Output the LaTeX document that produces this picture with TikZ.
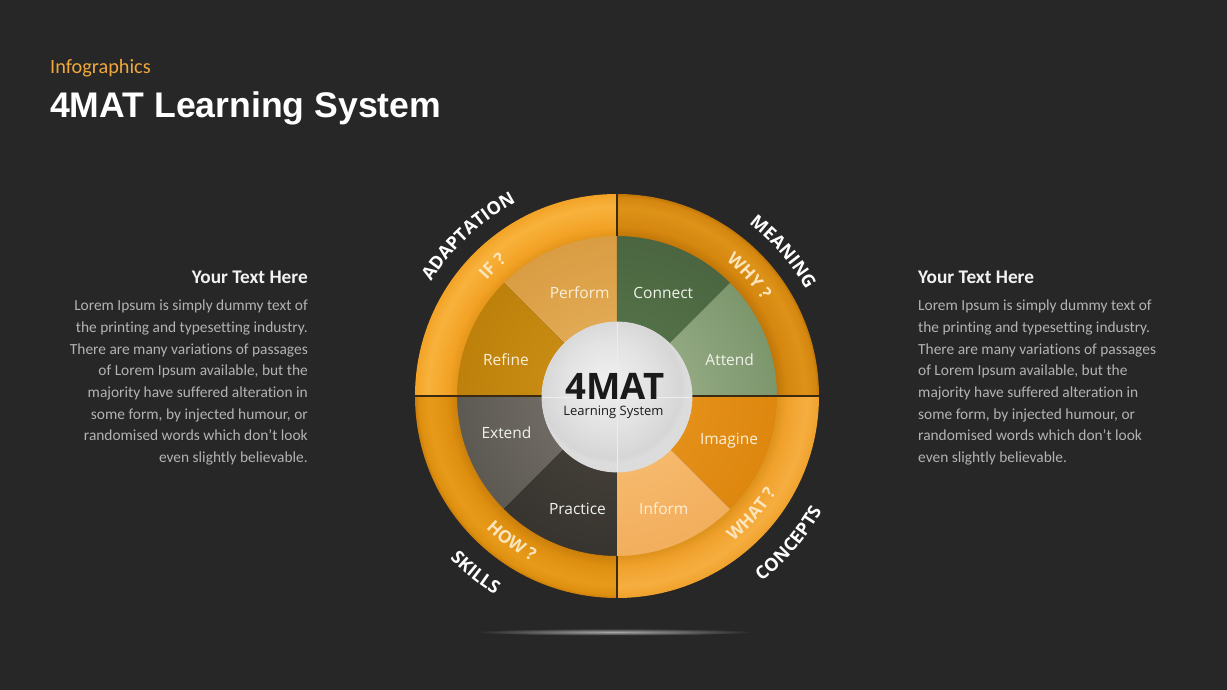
\documentclass[tikz,border=0pt]{standalone}
\usepackage{fontspec}
\setmainfont{Carlito}[Ligatures=NoCommon]
\newfontfamily\osans{Open Sans}
\newfontfamily\lsans{Liberation Sans}
\usetikzlibrary{decorations.text}

\definecolor{bg}{HTML}{272727}
\definecolor{infoc}{HTML}{F0A83C}
\definecolor{headc}{HTML}{F2F2F2}
\definecolor{bodyc}{HTML}{B3B3B3}
\definecolor{divc}{HTML}{3B2A12}
\definecolor{ringtxt}{HTML}{FCE5BC}
\definecolor{creamtxt}{HTML}{FBEFD9}
\definecolor{lighttxt}{HTML}{F0F2EC}
\definecolor{darktxt}{HTML}{1A1A1A}
\definecolor{glowc}{HTML}{A8A8A8}
% ring colours
\definecolor{tlE}{HTML}{E39418}\definecolor{tlM}{HTML}{F3A326}\definecolor{tlL}{HTML}{F8B23C}
\definecolor{trE}{HTML}{BF7508}\definecolor{trM}{HTML}{D5870F}\definecolor{trL}{HTML}{DD9218}
\definecolor{brE}{HTML}{DD921C}\definecolor{brM}{HTML}{F0A12C}\definecolor{brL}{HTML}{F6AE40}
\definecolor{blE}{HTML}{C97E0A}\definecolor{blM}{HTML}{DE8F10}\definecolor{blL}{HTML}{E79A1A}
% sector colours
\definecolor{perI}{HTML}{E8B562}\definecolor{perO}{HTML}{D99C42}
\definecolor{refI}{HTML}{D0931A}\definecolor{refO}{HTML}{BD800A}
\definecolor{conI}{HTML}{5A7A4E}\definecolor{conO}{HTML}{4A6540}
\definecolor{attI}{HTML}{A2B690}\definecolor{attO}{HTML}{7C966C}
\definecolor{imaI}{HTML}{EA9620}\definecolor{imaO}{HTML}{DD870F}
\definecolor{infI}{HTML}{F9C27A}\definecolor{infO}{HTML}{F2AE5C}
\definecolor{extI}{HTML}{7E7A72}\definecolor{extO}{HTML}{5C5852}
\definecolor{praI}{HTML}{4A453E}\definecolor{praO}{HTML}{37332E}
% centre
\definecolor{cA}{HTML}{EFEFEF}\definecolor{cB}{HTML}{E3E3E3}
\definecolor{cC}{HTML}{D6D6D6}\definecolor{cD}{HTML}{DCDCDC}
\definecolor{clinec}{HTML}{EDEDED}

\pgfdeclareradialshading{ringTL}{\pgfpointorigin}{color(0bp)=(tlE); color(19.7bp)=(tlE); color(21bp)=(tlM); color(23.5bp)=(tlL); color(25bp)=(tlM); color(50bp)=(tlM)}
\pgfdeclareradialshading{ringTR}{\pgfpointorigin}{color(0bp)=(trE); color(19.7bp)=(trE); color(21bp)=(trM); color(23.3bp)=(trL); color(24.6bp)=(trM); color(25bp)=(trE); color(50bp)=(trE)}
\pgfdeclareradialshading{ringBR}{\pgfpointorigin}{color(0bp)=(brE); color(19.7bp)=(brE); color(21bp)=(brM); color(23.5bp)=(brL); color(25bp)=(brM); color(50bp)=(brM)}
\pgfdeclareradialshading{ringBL}{\pgfpointorigin}{color(0bp)=(blE); color(19.7bp)=(blE); color(21bp)=(blM); color(23.3bp)=(blL); color(24.6bp)=(blM); color(25bp)=(blE); color(50bp)=(blE)}
\pgfdeclareradialshading{cball}{\pgfpoint{-4bp}{6bp}}{color(0bp)=(cA); color(14bp)=(cB); color(23.5bp)=(cC); color(25bp)=(cD); color(50bp)=(cD)}

\newcommand\ringseg[3]{\begin{scope}\clip ({#1}:160) arc[start angle=#1,end angle=#2,radius=160] -- ({#2}:202) arc[start angle=#2,end angle=#1,radius=202] -- cycle;
  \shade[shading=#3] (0,0) circle (202);\end{scope}}
\newcommand\pieseg[4]{\begin{scope}\clip (0,0) -- ({#1}:163) arc[start angle=#1,end angle=#2,radius=163] -- cycle;
  \shade[inner color=#3, outer color=#4] (0,0) circle (163);\end{scope}}
\newcommand\outfmt{\osans\bfseries\fontsize{18}{20}\selectfont\color{white}}
\newcommand\midfmt{\osans\bfseries\fontsize{17.5}{20}\selectfont\color{ringtxt}}
\newcommand\toplabel[4]{\path[decorate,decoration={text along path,text align=center,text={|#4|#3}}] ({#1+40}:#2) arc[start angle={#1+40},end angle={#1-40},radius=#2];}
\newcommand\botlabel[4]{\path[decorate,decoration={text along path,text align=center,text={|#4|#3}}] ({#1-40}:#2) arc[start angle={#1-40},end angle={#1+40},radius=#2];}

\tikzset{
  seclbl/.style={font=\osans\fontsize{15.5}{18}\selectfont, inner sep=0pt, anchor=base},
  divline/.style={draw=divc, line width=1.1pt},
  cline/.style={draw=clinec, line width=0.8pt},
  bodytxt/.style={font=\fontsize{15.4}{18}\selectfont, text=bodyc, inner sep=0pt},
  headtxt/.style={font=\bfseries\fontsize{19.3}{22}\selectfont, text=headc, inner sep=0pt}
}

\begin{document}
\begin{tikzpicture}[x=1pt,y=1pt]
\useasboundingbox (-617,-294) rectangle (610,396);
\fill[bg] (-617,-294) rectangle (610,396);

% title
\node[anchor=base west, inner sep=0pt, font=\fontsize{20.3}{22}\selectfont, text=infoc] (info) at (-567,322) {Infographics};
\node[anchor=base west, inner sep=0pt, font=\lsans\bfseries\fontsize{35.6}{40}\selectfont, text=white] (title) at (-567,278) {4MAT Learning System};

% side texts
\node[headtxt, anchor=base east] (lhead) at (-309,112) {Your Text Here};
\node[headtxt, anchor=base west] (rhead) at (301,112) {Your Text Here};
\foreach \t [count=\i] in {Lorem Ipsum is simply dummy text of, the printing and typesetting industry., There are many variations of passages, {of Lorem Ipsum available, but the}, majority have suffered alteration in, {some form, by injected humour, or}, randomised words which don't look, even slightly believable.}{
  \node[bodytxt, anchor=base east] (L\i) at (-309,{85.3-(\i-1)*21.7}) {\t};
  \node[bodytxt, anchor=base west] (R\i) at (301,{85.3-(\i-1)*21.7}) {\t};
}

% inner sectors
\pieseg{90}{135}{perI}{perO}
\pieseg{135}{180}{refI}{refO}
\pieseg{45}{90}{conI}{conO}
\pieseg{0}{45}{attI}{attO}
\pieseg{-45}{0}{imaI}{imaO}
\pieseg{-90}{-45}{infI}{infO}
\pieseg{180}{225}{extI}{extO}
\pieseg{225}{270}{praI}{praO}

% ring
\ringseg{90}{180}{ringTL}
\ringseg{0}{90}{ringTR}
\ringseg{-90}{0}{ringBR}
\ringseg{180}{270}{ringBL}

% dividers
\draw[divline] (0,160) -- (0,202);
\draw[divline] (0,-160) -- (0,-202);
\draw[divline] (-202,0) -- (-70,0);
\draw[divline] (70,0) -- (202,0);

% centre circle
\shade[shading=cball] (0,-1) circle (75);
\draw[cline] (0,74) -- (0,-76);
\draw[cline] (-75,-1) -- (75,-1);
\draw[draw=cD, line width=0.8pt] (0,-1) circle (75);

\node[font=\osans\bfseries\fontsize{36.5}{40}\selectfont, text=darktxt, inner sep=0pt, anchor=base] (mat) at (-2,-4) {4MAT};
\node[font=\osans\fontsize{13}{15}\selectfont, text=darktxt, inner sep=0pt, anchor=base] (lsys) at (-3.5,-20) {Learning System};

% sector labels
\node[seclbl, text=creamtxt] (perform) at (-37.3,97.7) {Perform};
\node[seclbl, text=lighttxt] (connect) at (46.3,97.7) {Connect};
\node[seclbl, text=creamtxt] (refine) at (-111,30) {Refine};
\node[seclbl, text=lighttxt] (attend) at (112.7,30) {Attend};
\node[seclbl, text=lighttxt] (extend) at (-110.5,-43) {Extend};
\node[seclbl, text=creamtxt] (imagine) at (112,-49) {Imagine};
\node[seclbl, text=lighttxt] (practice) at (-39.5,-119) {Practice};
\node[seclbl, text=creamtxt] (inform) at (46.8,-119) {Inform};

% ring labels
\toplabel{133.9}{174}{IF ?}{\midfmt}
\toplabel{42.3}{174}{WHY ?}{\midfmt}
\botlabel{-41.2}{186}{WHAT ?}{\midfmt}
\botlabel{-126}{186}{HOW ?}{\midfmt}

% outer labels
\toplabel{133}{218}{ADAPTATION}{\outfmt}
\toplabel{41}{217}{MEANING}{\outfmt}
\botlabel{-40.6}{235}{CONCEPTS}{\outfmt}
\botlabel{-128.7}{233}{SKILLS}{\outfmt}

% glow under the wheel
\shade[inner color=glowc, outer color=bg] (-3,-236) ellipse (140 and 3.5);
\end{tikzpicture}
\end{document}
